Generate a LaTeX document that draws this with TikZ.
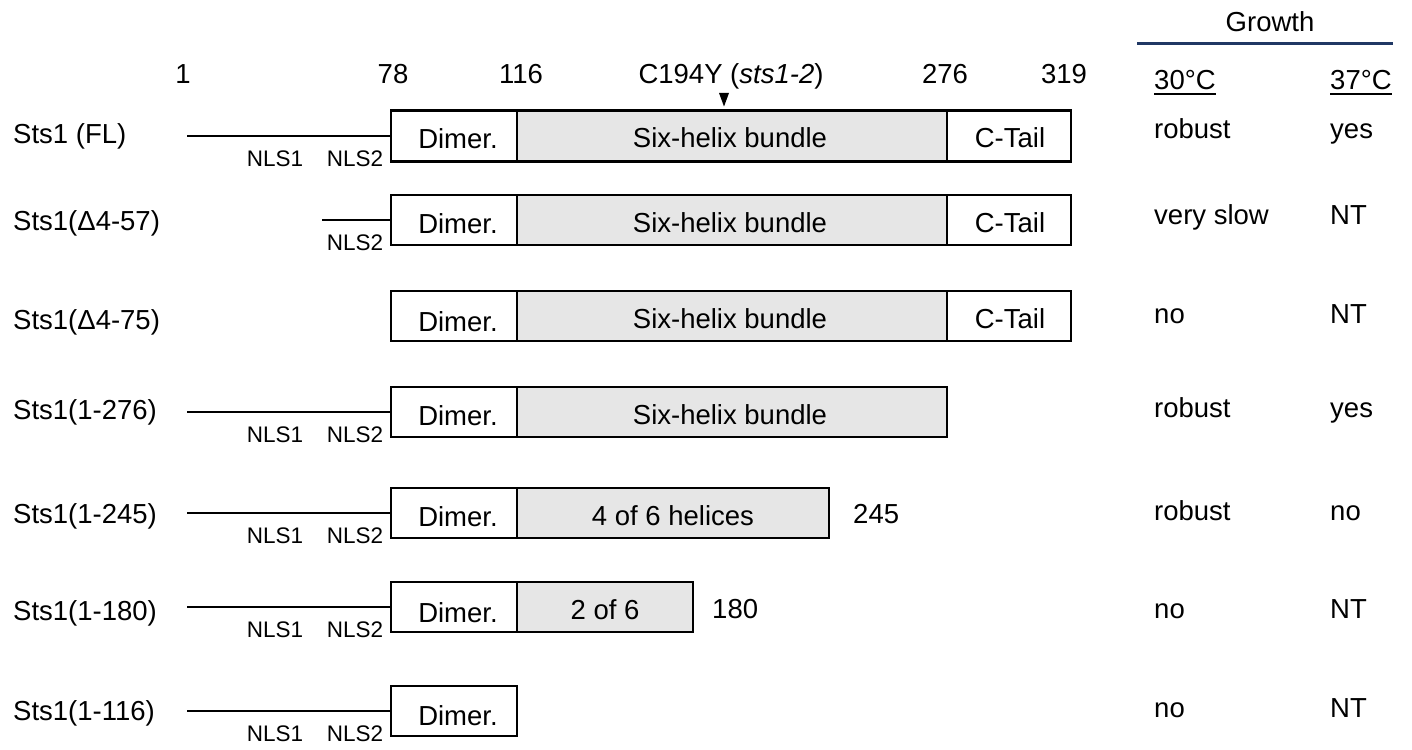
\documentclass[tikz,border=0pt]{standalone}
\usepackage{fontspec}
\setmainfont{Liberation Sans}
\definecolor{domgray}{RGB}{230,230,230}
\definecolor{navyline}{RGB}{32,56,100}
\tikzset{
  txt/.style={font=\fontsize{27.5}{33}\selectfont, inner sep=0pt, anchor=base},
  txtl/.style={txt, anchor=base west},
  nls/.style={font=\fontsize{22.5}{27}\selectfont, inner sep=0pt, anchor=base},
  dom/.style={draw, line width=2.6pt, inner sep=0pt, minimum height=50pt, fill=white},
  helix/.style={dom, fill=domgray},
  link/.style={line width=2.6pt},
}
\begin{document}
\begin{tikzpicture}[x=1pt,y=-1pt]
\useasboundingbox (0,0) rectangle (1412,749);

% header numbers
\node[txt] (p1) at (183,84) {1};
\node[txt] (p78) at (393,84) {78};
\node[txt] (p116) at (521,84) {116};
\node[txt] (pmut) at (731,84) {C194Y (\textit{sts1-2})};
\node[txt] (p276) at (945,84) {276};
\node[txt] (p319) at (1064,84) {319};
\fill (719,93) -- (729,93) -- (724,106.5) -- cycle;

% growth header
\node[txt] (gh) at (1270,32) {Growth};
\draw[navyline, line width=3pt] (1137,44) -- (1393,44);
\node[txtl] (t30) at (1154,90) {30°C};
\node[txtl] (t37) at (1330,90) {37°C};
\draw[line width=2pt] ([yshift=-4.5pt]t30.base west) -- ([yshift=-4.5pt]t30.base east);
\draw[line width=2pt] ([yshift=-4.5pt]t37.base west) -- ([yshift=-4.5pt]t37.base east);

% Row 1
\node[txtl] (r1) at (13,143) {Sts1 (FL)};
\coordinate (s1) at (187,136);
\node[dom, minimum width=126, minimum height=51] (d1) at (454,136) {};
\node[helix, minimum width=430, minimum height=51] (h1) at (732,136) {};
\node[dom, minimum width=124, minimum height=51] (c1) at (1009,136) {};
\draw[link] (s1) -- (d1.west);
\node[txt] (d1t) at (458,148.5) {Dimer.};
\node[txt] (h1t) at (730,147.5) {Six-helix bundle};
\node[txt] (c1t) at (1010,147.5) {C-Tail};
\node[nls] (n1a) at (275,166) {NLS1};
\node[nls] (n1b) at (355,166) {NLS2};
\node[txtl] (g1a) at (1154,139) {robust};
\node[txtl] (g1b) at (1330,139) {yes};

% Row 2
\node[txtl] (r2) at (13,230) {Sts1(Δ4-57)};
\coordinate (s2) at (322,220);
\node[dom, minimum width=126] (d2) at (454,220) {};
\node[helix, minimum width=430] (h2) at (732,220) {};
\node[dom, minimum width=124] (c2) at (1009,220) {};
\draw[link] (s2) -- (d2.west);
\node[txt] (d2t) at (458,233) {Dimer.};
\node[txt] (h2t) at (730,232) {Six-helix bundle};
\node[txt] (c2t) at (1010,232) {C-Tail};
\node[nls] (n2b) at (355,250) {NLS2};
\node[txtl] (g2a) at (1154,224) {very slow};
\node[txtl] (g2b) at (1330,224) {NT};

% Row 3
\node[txtl] (r3) at (13,329) {Sts1(Δ4-75)};
\node[dom, minimum width=126] (d3) at (454,316) {};
\node[helix, minimum width=430] (h3) at (732,316) {};
\node[dom, minimum width=124] (c3) at (1009,316) {};
\node[txt] (d3t) at (458,331) {Dimer.};
\node[txt] (h3t) at (730,328) {Six-helix bundle};
\node[txt] (c3t) at (1010,328) {C-Tail};
\node[txtl] (g3a) at (1154,323) {no};
\node[txtl] (g3b) at (1330,323) {NT};

% Row 4
\node[txtl] (r4) at (13,419) {Sts1(1-276)};
\coordinate (s4) at (187,412);
\node[dom, minimum width=126] (d4) at (454,412) {};
\node[helix, minimum width=430] (h4) at (732,412) {};
\draw[link] (s4) -- (d4.west);
\node[txt] (d4t) at (458,425) {Dimer.};
\node[txt] (h4t) at (730,424) {Six-helix bundle};
\node[nls] (n4a) at (275,442) {NLS1};
\node[nls] (n4b) at (355,442) {NLS2};
\node[txtl] (g4a) at (1154,417) {robust};
\node[txtl] (g4b) at (1330,417) {yes};

% Row 5
\node[txtl] (r5) at (13,523) {Sts1(1-245)};
\coordinate (s5) at (187,513);
\node[dom, minimum width=126] (d5) at (454,513) {};
\node[helix, minimum width=312] (h5) at (673,513) {};
\draw[link] (s5) -- (d5.west);
\node[txt] (d5t) at (458,526) {Dimer.};
\node[txt] (h5t) at (673,525) {4 of 6 helices};
\node[txtl] (e5) at (853,523) {245};
\node[nls] (n5a) at (275,543) {NLS1};
\node[nls] (n5b) at (355,543) {NLS2};
\node[txtl] (g5a) at (1154,520) {robust};
\node[txtl] (g5b) at (1330,520) {no};

% Row 6
\node[txtl] (r6) at (13,620) {Sts1(1-180)};
\coordinate (s6) at (187,607);
\node[dom, minimum width=126] (d6) at (454,607) {};
\node[helix, minimum width=176] (h6) at (605,607) {};
\draw[link] (s6) -- (d6.west);
\node[txt] (d6t) at (458,622) {Dimer.};
\node[txt] (h6t) at (605,619) {2 of 6};
\node[txtl] (e6) at (712,618) {180};
\node[nls] (n6a) at (275,637) {NLS1};
\node[nls] (n6b) at (355,637) {NLS2};
\node[txtl] (g6a) at (1154,618) {no};
\node[txtl] (g6b) at (1330,618) {NT};

% Row 7
\node[txtl] (r7) at (13,720) {Sts1(1-116)};
\coordinate (s7) at (187,711);
\node[dom, minimum width=126] (d7) at (454,711) {};
\draw[link] (s7) -- (d7.west);
\node[txt] (d7t) at (458,725) {Dimer.};
\node[nls] (n7a) at (275,741) {NLS1};
\node[nls] (n7b) at (355,741) {NLS2};
\node[txtl] (g7a) at (1154,717) {no};
\node[txtl] (g7b) at (1330,717) {NT};
\end{tikzpicture}
\end{document}
